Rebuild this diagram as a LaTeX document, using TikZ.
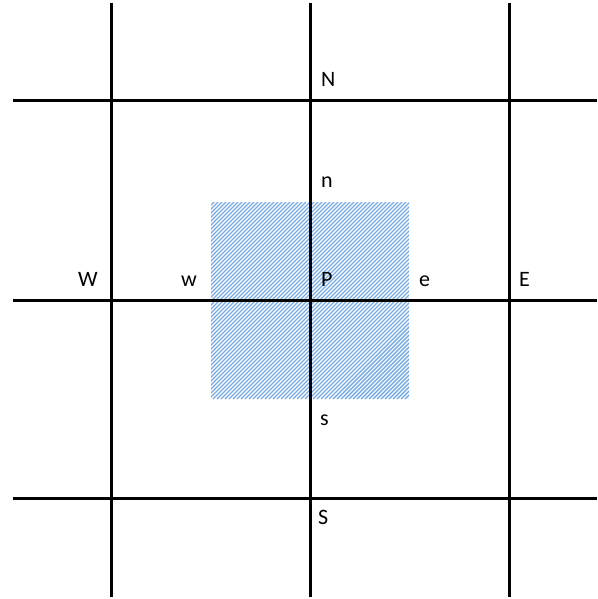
\documentclass[tikz,border=0pt]{standalone}
\usepackage{fontspec}
\setmainfont{Carlito}
\definecolor{hatchblue}{RGB}{120,172,228}
\begin{document}
\begin{tikzpicture}[x=1pt,y=-1pt,
  gridline/.style={line width=3pt,black},
  lab/.style={anchor=base west,inner sep=0pt,font=\fontsize{22}{22}\selectfont}]
\useasboundingbox (0,0) rectangle (597,599);
% hatched control volume
\begin{scope}
\clip (211,202) rectangle (409,399);
\foreach \k in {0,4,...,420}{
  \draw[hatchblue,line width=1.4pt] (211+\k-210,399) -- (211+\k,189);
}
\end{scope}
% grid
\foreach \x in {111,310,509}{\draw[gridline] (\x,3) -- (\x,597);}
\foreach \y in {101,300,498}{\draw[gridline] (13,\y) -- (597,\y);}
% labels
\node[lab] (N) at (321,87) {N};
\node[lab] (n) at (321,187) {n};
\node[lab] (W) at (78,286) {W};
\node[lab] (w) at (181,286) {w};
\node[lab] (P) at (321,286) {P};
\node[lab] (e) at (419,286) {e};
\node[lab] (E) at (519,286) {E};
\node[lab] (s) at (320,425) {s};
\node[lab] (S) at (318,524) {S};
\end{tikzpicture}
\end{document}
